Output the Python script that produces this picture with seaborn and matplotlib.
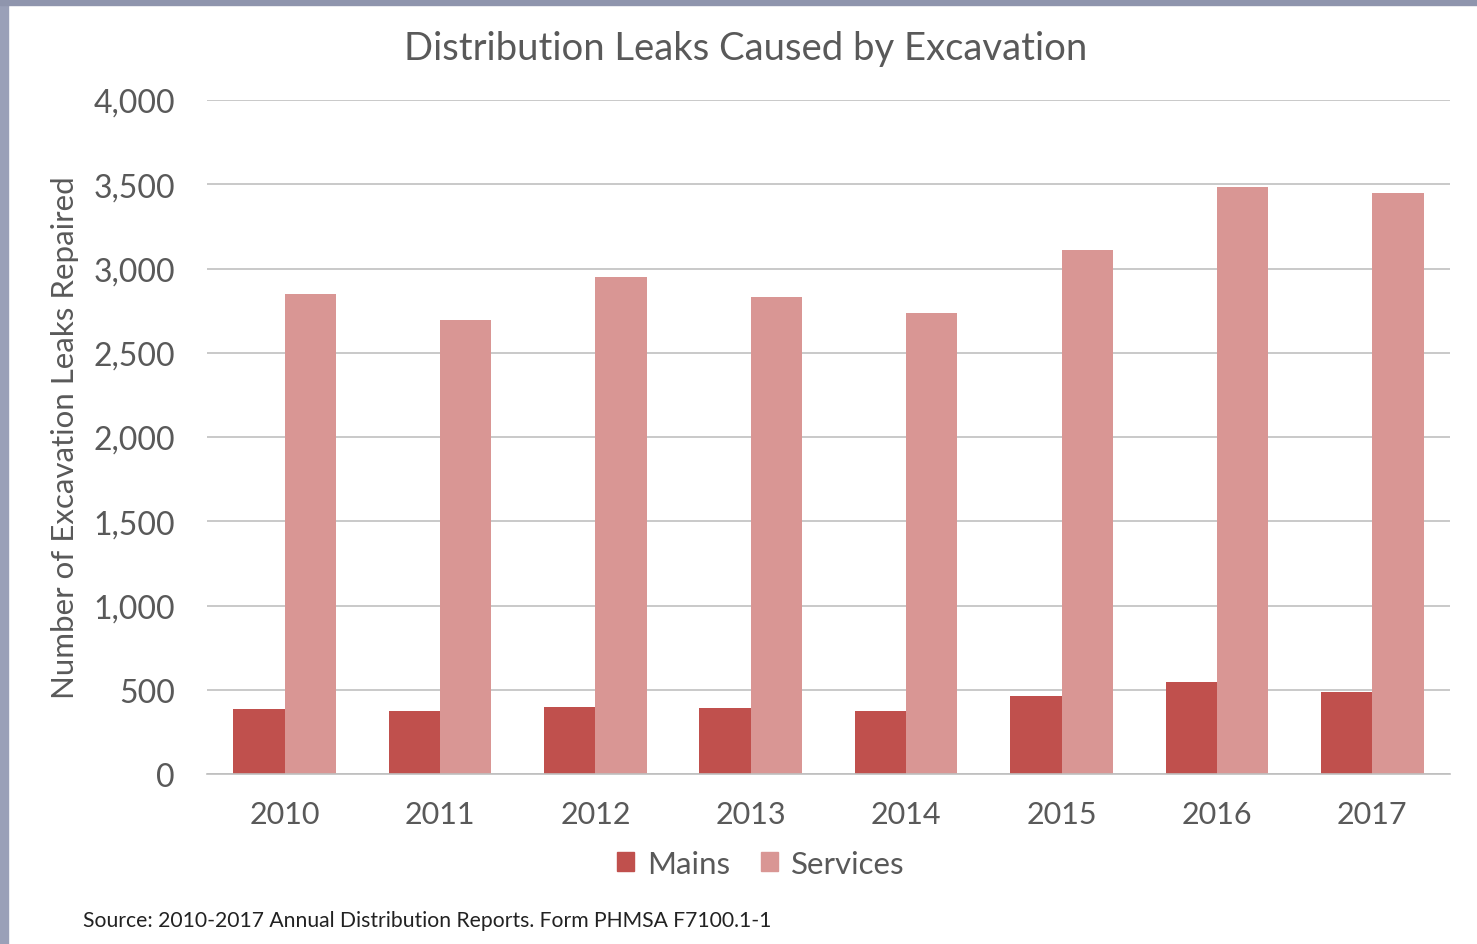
import matplotlib
matplotlib.use("Agg")
import matplotlib.pyplot as plt
import matplotlib.patches as mpatches
import seaborn as sns
import pandas as pd

# dados
years = ["2010", "2011", "2012", "2013", "2014", "2015", "2016", "2017"]
mains = [386, 374, 398, 392, 374, 463, 546, 487]
services = [2850, 2695, 2950, 2831, 2736, 3110, 3484, 3448]
series = ["Mains", "Services"]
colors = ["#c0504d", "#d99694"]

df = pd.DataFrame({
    "Year": years * 2,
    "Leaks": mains + services,
    "Type": ["Mains"] * len(years) + ["Services"] * len(years),
})

sns.set_style("white")
plt.rcParams["font.family"] = ["Lato", "DejaVu Sans"]
txt = "#595959"

fig = plt.figure(figsize=(14.77, 9.45), dpi=100)
ax = fig.add_axes([0.1401, 0.1799, 0.8416, 0.7132])

sns.barplot(data=df, x="Year", y="Leaks", hue="Type", hue_order=series,
            palette=colors, width=0.66, linewidth=0, saturation=1,
            ax=ax, legend=False)

ax.set_ylim(0, 4000)
ax.set_xlim(-0.5, len(years) - 0.5)
ax.set_yticks(range(0, 4001, 500))
ax.set_yticklabels([f"{v:,}" for v in range(0, 4001, 500)], fontsize=23, color=txt)
ax.grid(axis="y", color="#c0c0c0", linewidth=1.2)
ax.set_axisbelow(True)

ax.set_xticks(range(len(years)))
ax.set_xticklabels(years, fontsize=22, color=txt)
ax.set_xticks([i - 0.5 for i in range(len(years) + 1)], minor=True)
ax.tick_params(axis="x", which="major", length=0, pad=19)
ax.tick_params(axis="x", which="minor", length=8, color="#bfbfbf", width=1.2)
ax.tick_params(axis="y", length=0, pad=23)

for s in ["top", "right", "left"]:
    ax.spines[s].set_visible(False)
ax.spines["bottom"].set_color("#bfbfbf")
ax.spines["bottom"].set_linewidth(1.2)

ax.set_xlabel("")
ax.set_ylabel("Number of Excavation Leaks Repaired", fontsize=22.5, color=txt, labelpad=10)

fig.text(0.5045, 0.948, "Distribution Leaks Caused by Excavation",
         ha="center", va="center", fontsize=27.5, color=txt)

handles = [mpatches.Patch(color=c, label=l) for c, l in zip(colors, series)]
fig.legend(handles=handles, loc="center", bbox_to_anchor=(0.515, 0.085), ncol=2,
           frameon=False, fontsize=22.5, labelcolor=txt, handlelength=0.55,
           handleheight=0.55, handletextpad=0.4, columnspacing=1.0)

fig.text(0.056, 0.025, "Source: 2010-2017 Annual Distribution Reports. Form PHMSA F7100.1-1",
         ha="left", va="center", fontsize=15.2, color="#222222")

# moldura da captura de tela
fig.patches.append(mpatches.Rectangle((0, 0), 0.0055, 1, transform=fig.transFigure,
                                      color="#9aa0b8", zorder=0))
fig.patches.append(mpatches.Rectangle((0, 0.9937), 1, 0.0063, transform=fig.transFigure,
                                      color="#8f95ad", zorder=0))

fig.savefig("out.png", dpi=100)
